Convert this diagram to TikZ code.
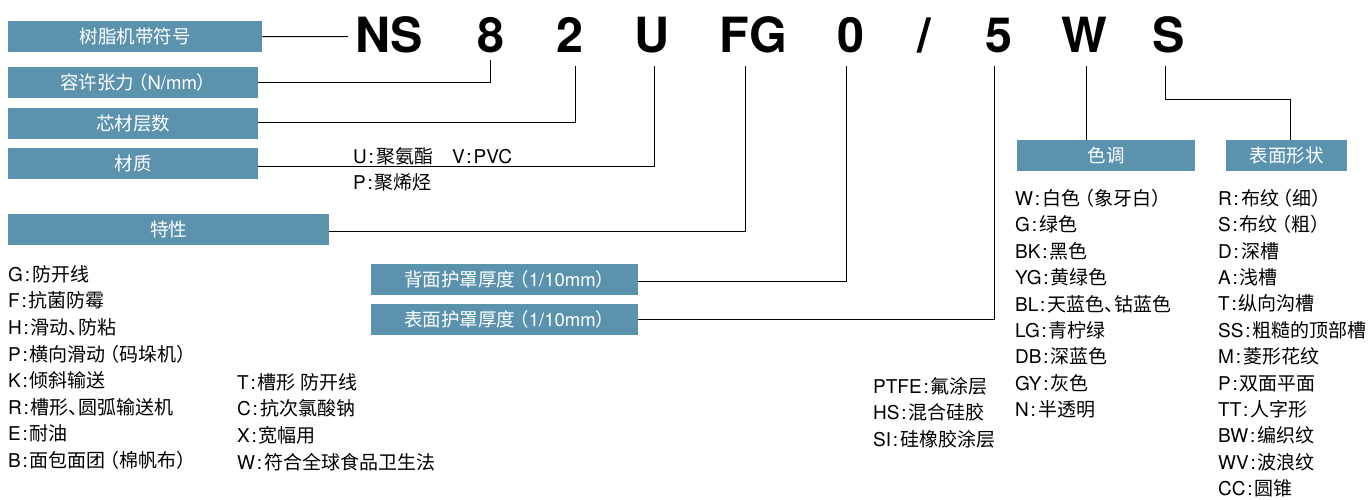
\documentclass[tikz,border=0pt]{standalone}
\usepackage{fontspec}
\setmainfont{Noto Sans CJK SC}[RawFeature={+halt}]
\newfontfamily\codefont{TeX Gyre Heros}
\newfontfamily\lat{TeX Gyre Heros}
\definecolor{boxblue}{RGB}{91,147,175}
\newcommand{\ent}[2]{{\lat #1\hspace{1.8pt}:\hspace{2pt}}#2}
\begin{document}
\begin{tikzpicture}[x=1pt,y=-1pt,
  box/.style={fill=boxblue, draw=none, text=white, anchor=north west, inner sep=0pt,
    text height=16.3pt, text depth=2.2pt, font=\fontsize{18.5}{22}\selectfont},
  lbl/.style={anchor=west, inner sep=0pt, text height=16.7pt, text depth=2.3pt,
    font=\fontsize{19}{22}\selectfont},
  code/.style={anchor=base, inner sep=0pt, font=\fontsize{48.5}{50}\selectfont\codefont\bfseries},
  conn/.style={draw=black, line width=1pt}]
\useasboundingbox (0,0) rectangle (1370,499);

% boxes
\node[box, minimum width=254pt, minimum height=31pt] (b1) at (8,21) {树脂机带符号};
\node[box, minimum width=250pt, minimum height=31pt] (b2) at (8,67) {容许张力 （{\lat N/mm}）};
\node[box, minimum width=250pt, minimum height=31pt] (b3) at (8,108) {芯材层数};
\node[box, minimum width=250pt, minimum height=31pt] (b4) at (8,148) {材质};
\node[box, minimum width=321pt, minimum height=31pt] (b5) at (8,214) {特性};
\node[box, minimum width=267pt, minimum height=31pt] (b6) at (371,264) {背面护罩厚度 （{\lat 1/10mm}）};
\node[box, minimum width=267pt, minimum height=31pt] (b7) at (371,304) {表面护罩厚度 （{\lat 1/10mm}）};
\node[box, minimum width=178pt, minimum height=31pt] (b8) at (1017,140) {色调};
\node[box, minimum width=121pt, minimum height=31pt] (b9) at (1226,140) {表面形状};

% code letters
\node[code] (cNS) at (389,52.5) {NS};
\node[code] (c8) at (491,52.5) {8};
\node[code] (c2) at (570,52.5) {2};
\node[code] (cU) at (651.5,52.5) {U};
\node[code] (cFG) at (753.5,52.5) {FG};
\node[code] (c0) at (851,52.5) {0};
\node[code] (cSl) at (924,52.5) {/};
\node[code] (c5) at (998.5,52.5) {5};
\node[code] (cW) at (1084,52.5) {W};
\node[code] (cS) at (1169,52.5) {S};

% drop points
\coordinate (e1) at (348,36.5);
\coordinate (d8) at (490,60);
\coordinate (d2) at (575,66);
\coordinate (dU) at (654,66);
\coordinate (dFG) at (745,66);
\coordinate (d0) at (846.5,66);
\coordinate (d5) at (994,66);
\coordinate (dW) at (1086,66);
\coordinate (dS) at (1165,66);
\coordinate (sk) at (1290,99);

% connectors
\draw[conn] (b1.east) -- (e1);
\draw[conn] (b2.east) -| (d8);
\draw[conn] ([yshift=1pt]b3.east) -| (d2);
\draw[conn] ([yshift=-3pt]b4.east) -| (dU);
\draw[conn] ([yshift=-1.5pt]b5.east) -| (dFG);
\draw[conn] ([yshift=-1.5pt]b6.east) -| (d0);
\draw[conn] (b7.east) -| (d5);
\draw[conn] (dW) -- (dW |- b8.north);
\draw[conn] (dS) |- (sk) -- (sk |- b9.north);

% material text
\node[lbl] (m1) at (353,156) {\ent{U}{聚氨酯}\hspace{1em}\ent{V}{\lat PVC}};
\node[lbl] (m2) at (353,182) {\ent{P}{聚烯烃}};

% left list
\foreach \t [count=\i from 0] in {{\ent{G}{防开线}},{\ent{F}{抗菌防霉}},{\ent{H}{滑动、防粘}},{\ent{P}{横向滑动 （码垛机）}},{\ent{K}{倾斜输送}},{\ent{R}{槽形、圆弧输送机}},{\ent{E}{耐油}},{\ent{B}{面包面团 （棉帆布）}}}
  \node[lbl] (ll\i) at (8,274+26.6*\i) {\t};

% second list
\foreach \t [count=\i from 0] in {{\ent{T}{槽形 防开线}},{\ent{C}{抗次氯酸钠}},{\ent{X}{宽幅用}},{\ent{W}{符合全球食品卫生法}}}
  \node[lbl] (sl\i) at (237,382+26.7*\i) {\t};

% coating list
\foreach \t [count=\i from 0] in {{\ent{PTFE}{氟涂层}},{\ent{HS}{混合硅胶}},{\ent{SI}{硅橡胶涂层}}}
  \node[lbl] (pl\i) at (873,386+26.6*\i) {\t};

% colour list
\foreach \t [count=\i from 0] in {{\ent{W}{白色 （象牙白）}},{\ent{G}{绿色}},{\ent{BK}{黑色}},{\ent{YG}{黄绿色}},{\ent{BL}{天蓝色、钴蓝色}},{\ent{LG}{青柠绿}},{\ent{DB}{深蓝色}},{\ent{GY}{灰色}},{\ent{N}{半透明}}}
  \node[lbl] (cl\i) at (1015,198+26.45*\i) {\t};

% surface list
\foreach \t [count=\i from 0] in {{\ent{R}{布纹 （细）}},{\ent{S}{布纹 （粗）}},{\ent{D}{深槽}},{\ent{A}{浅槽}},{\ent{T}{纵向沟槽}},{\ent{SS}{粗糙的顶部槽}},{\ent{M}{菱形花纹}},{\ent{P}{双面平面}},{\ent{TT}{人字形}},{\ent{BW}{编织纹}},{\ent{WV}{波浪纹}},{\ent{CC}{圆锥}}}
  \node[lbl] (sf\i) at (1218,198+26.4*\i) {\t};
\end{tikzpicture}
\end{document}
